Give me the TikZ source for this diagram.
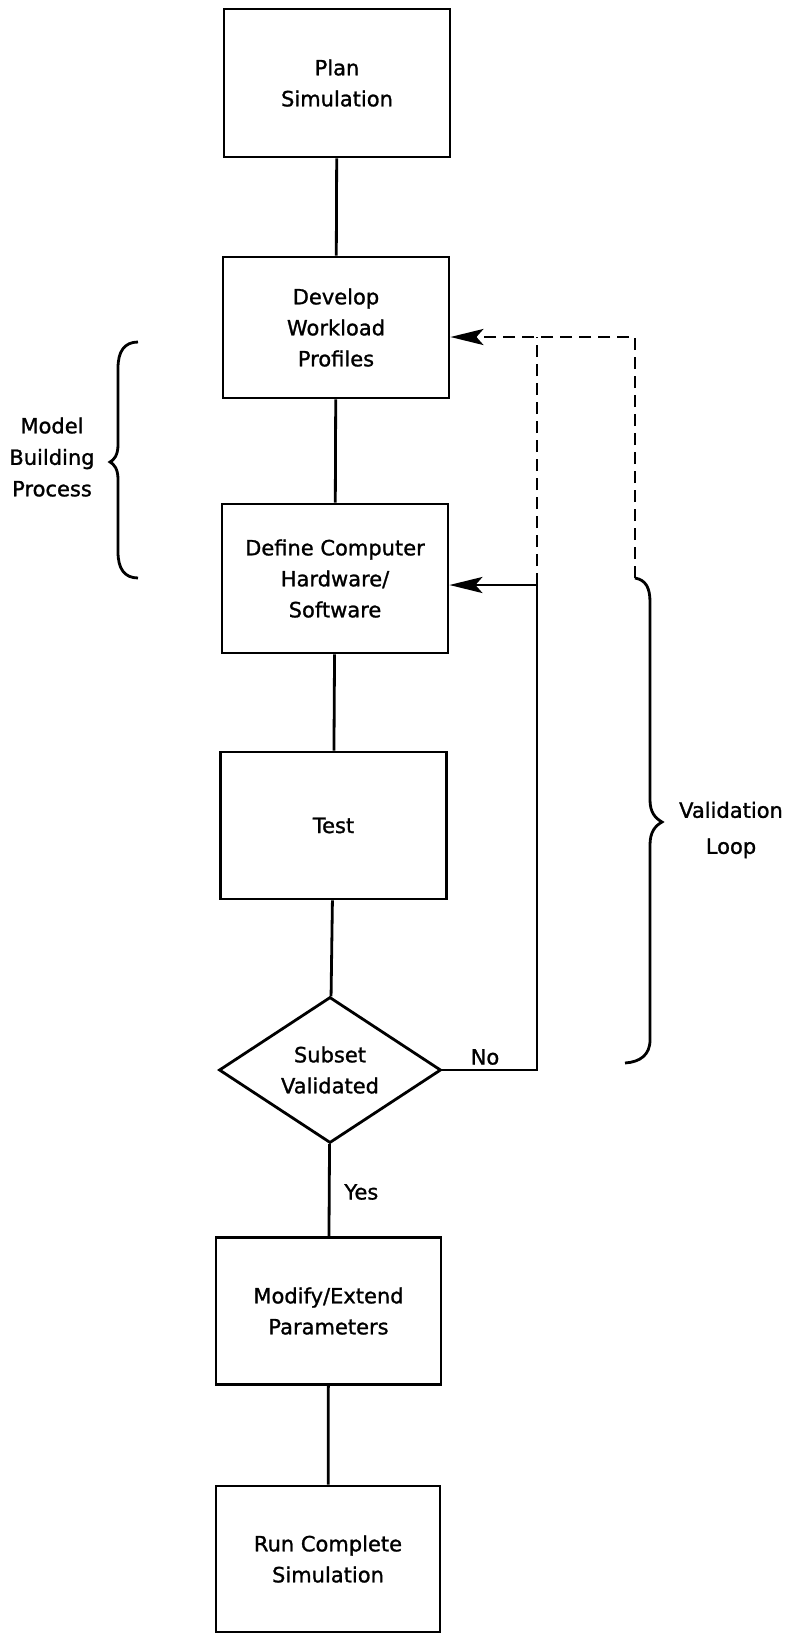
\documentclass[tikz,border=0pt]{standalone}
\usepackage{fontspec}
\setmainfont{DejaVu Sans}[UprightFeatures={FakeBold=1.2}]
\usetikzlibrary{arrows.meta,shapes.geometric}
\begin{document}
\begin{tikzpicture}[x=1pt,y=-1pt,line width=2.8pt,
  txt/.style={align=center,font=\fontsize{21}{31}\selectfont,inner sep=0pt},
  box/.style={txt,draw,minimum width=226pt},
  dec/.style={txt,draw,shape=diamond,aspect=1.52,minimum width=222pt,minimum height=146pt},
  arr/.style={-{Stealth[length=33pt,width=16pt,inset=7pt]}},
  dsh/.style={dash pattern=on 12pt off 7pt}]
\useasboundingbox (0,0) rectangle (790,1633);
% boxes
\node[box,minimum height=148pt] (plan) at (337,83) {Plan\\Simulation};
\node[box,minimum height=141pt] (dev) at (336,327.5) {Develop\\Workload\\Profiles};
\node[box,minimum height=149pt] (def) at (335,578.5) {Define Computer\\Hardware/\\Software};
\node[box,minimum height=147pt] (test) at (333.5,825.5) {Test};
\node[dec] (dia) at (330,1070) {Subset\\Validated};
\node[box,minimum width=225pt,minimum height=147pt] (mod) at (328.5,1311) {Modify/Extend\\Parameters};
\node[box,minimum width=224pt,minimum height=146pt] (run) at (328,1559) {Run Complete\\Simulation};
% main flow
\draw (plan) -- (dev);
\draw (dev) -- (def);
\draw (def) -- (test);
\draw (test) -- (dia);
\draw (dia) -- (mod);
\draw (mod) -- (run);
\node[txt,anchor=west] (yes) at (343,1192) {Yes};
\node[txt] (no) at (485,1057) {No};
% loop
\coordinate (j1) at (537,585);
\coordinate (j2) at (537,337);
\coordinate (j3) at (635,337);
\coordinate (bt) at (635,578);
\draw (dia.east) -| (j1);
\draw[arr] (j1) -- (j1 -| def.east);
\draw[dsh] (j1) -- (j2);
\draw[dsh,arr] (bt) -- (j3) -- (j3 -| dev.east);
% right brace
\draw (bt) .. controls (646,580) and (650,588) .. (650,602) -- (650,800)
  .. controls (650,812) and (655,818) .. (662,822)
  .. controls (655,826) and (650,832) .. (650,845) -- (650,1040)
  .. controls (650,1055) and (640,1062) .. (625,1063);
\node[txt,font=\fontsize{21}{36}\selectfont] (vl) at (731,830) {Validation\\Loop};
% left brace
\draw (138,342) .. controls (124,342) and (118,352) .. (118,368) -- (118,445)
  .. controls (118,455) and (114,460) .. (110,462)
  .. controls (114,464) and (118,469) .. (118,479) -- (118,552)
  .. controls (118,568) and (124,578) .. (138,578);
\node[txt,font=\fontsize{21}{31.5}\selectfont] (mbp) at (52,457) {Model\\Building\\Process};
\end{tikzpicture}
\end{document}
